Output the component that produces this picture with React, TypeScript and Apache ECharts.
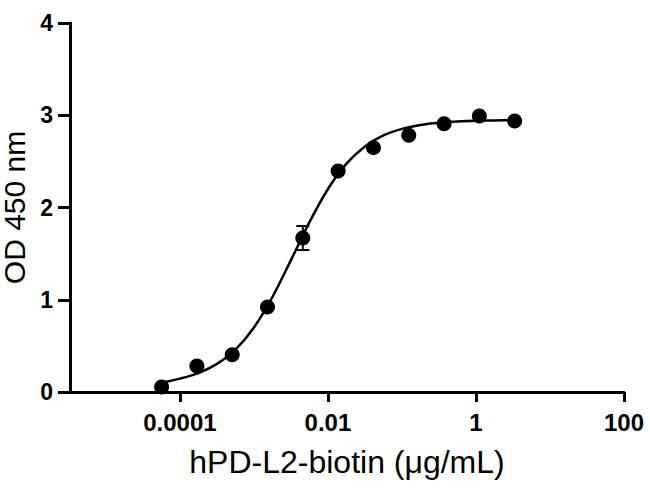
import React, { useEffect, useRef } from "react";
import * as echarts from "echarts";

// hPD-L2-biotin concentrations (µg/mL), 3-fold dilutions
const concentrations = [5.65e-5, 1.694e-4, 5.08e-4, 1.524e-3, 4.572e-3, 0.01372, 0.04115, 0.1235, 0.3704, 1.111, 3.333];
// Mean OD 450 nm
const odValues = [0.054, 0.282, 0.405, 0.921, 1.669, 2.396, 2.649, 2.783, 2.909, 2.992, 2.938];
// Error (SD) per point; only the visible one is non-zero
const odErrors = [0, 0, 0, 0, 0.13, 0, 0, 0, 0, 0, 0];

// Fitted sigmoidal curve
const fitConcentrations = [
  5.65e-5, 1e-4, 1.778e-4, 3.162e-4, 5.623e-4, 1e-3, 1.778e-3, 3.162e-3, 5.623e-3, 0.01,
  0.01778, 0.03162, 0.05623, 0.1, 0.1778, 0.3162, 0.5623, 1, 1.778, 3.333,
];
const fitOD = [
  0.1, 0.145, 0.205, 0.305, 0.46, 0.7, 1.03, 1.43, 1.841, 2.201,
  2.475, 2.662, 2.781, 2.852, 2.894, 2.918, 2.932, 2.94, 2.944, 2.947,
];

// Axis range (concentration) and tick labels
const xRangeMin = 3.27e-6;
const xRangeMax = 100;
const xTickValues = [0.0001, 0.01, 1, 100];
const xTickLabels = ["0.0001", "0.01", "1", "100"];
const yTickLabels = ["0", "1", "2", "3", "4"];

const lg = (v: number) => Math.log10(v);

export default function App() {
  const ref = useRef<HTMLDivElement>(null);

  useEffect(() => {
    if (!ref.current) return;
    const chart = echarts.init(ref.current, null, { renderer: "svg" });
    const font = "'Liberation Sans', Arial, Helvetica, sans-serif";

    const errData = concentrations
      .map((c, i) => [lg(c), odValues[i] - odErrors[i], odValues[i] + odErrors[i], odErrors[i]])
      .filter((d) => d[3] > 0);

    const xTickLogs = xTickValues.map(lg);

    chart.setOption({
      animation: false,
      backgroundColor: "#ffffff",
      grid: {
        left: 70,
        right: 26,
        top: 23,
        bottom: 97,
        containLabel: false,
        outerBoundsMode: "none",
      },
      xAxis: {
        type: "value",
        min: lg(xRangeMin),
        max: lg(xRangeMax),
        name: "hPD-L2-biotin (μg/mL)",
        nameLocation: "middle",
        nameGap: 54,
        nameTextStyle: { fontFamily: font, fontSize: 32, color: "#000" },
        axisLine: { show: true, onZero: false, lineStyle: { color: "#000", width: 3 } },
        axisTick: {
          show: true,
          inside: false,
          length: 10,
          customValues: xTickLogs,
          lineStyle: { color: "#000", width: 3 },
        },
        axisLabel: {
          customValues: xTickLogs,
          margin: 18,
          fontFamily: font,
          fontSize: 24,
          fontWeight: "bold",
          color: "#000",
          formatter: (v: number) => {
            let best = 0;
            let bd = Infinity;
            xTickLogs.forEach((t, i) => {
              const d = Math.abs(t - v);
              if (d < bd) {
                bd = d;
                best = i;
              }
            });
            return xTickLabels[best];
          },
        },
        splitLine: { show: false },
      },
      yAxis: {
        type: "value",
        min: 0,
        max: 4,
        interval: 1,
        name: "OD 450 nm",
        nameLocation: "middle",
        nameGap: 45,
        nameTextStyle: { fontFamily: font, fontSize: 30, lineHeight: 22, color: "#000" },
        axisLine: { show: true, onZero: false, lineStyle: { color: "#000", width: 3 } },
        axisTick: { show: true, inside: false, length: 12, lineStyle: { color: "#000", width: 3 } },
        axisLabel: {
          margin: 17,
          fontFamily: font,
          fontSize: 23,
          fontWeight: "bold",
          color: "#000",
          formatter: (v: number) => yTickLabels[Math.round(v)] ?? String(v),
        },
        splitLine: { show: false },
      },
      series: [
        {
          type: "line",
          data: fitConcentrations.map((c, i) => [lg(c), fitOD[i]]),
          showSymbol: false,
          smooth: 0.3,
          lineStyle: { color: "#000", width: 2.5 },
          z: 2,
          silent: true,
        },
        {
          type: "custom",
          data: errData,
          encode: { x: 0, y: [1, 2] },
          z: 4,
          renderItem: (params: any, api: any) => {
            const x = api.value(0);
            const lo = api.value(1);
            const hi = api.value(2);
            const top = api.coord([x, hi]);
            const bot = api.coord([x, lo]);
            const hw = 6.5;
            const style = { stroke: "#000", lineWidth: 2 };
            return {
              type: "group",
              children: [
                { type: "line", shape: { x1: top[0], y1: top[1], x2: bot[0], y2: bot[1] }, style },
                { type: "line", shape: { x1: top[0] - hw, y1: top[1], x2: top[0] + hw, y2: top[1] }, style },
                { type: "line", shape: { x1: bot[0] - hw, y1: bot[1], x2: bot[0] + hw, y2: bot[1] }, style },
              ],
            };
          },
        },
        {
          type: "scatter",
          data: concentrations.map((c, i) => [lg(c), odValues[i]]),
          symbol: "circle",
          symbolSize: 15,
          itemStyle: { color: "#000", opacity: 1 },
          z: 3,
        },
      ],
    });

    return () => chart.dispose();
  }, []);

  return (
    <div
      ref={ref}
      style={{ position: "fixed", left: 0, top: 0, width: 650, height: 489, background: "#fff" }}
    />
  );
}
